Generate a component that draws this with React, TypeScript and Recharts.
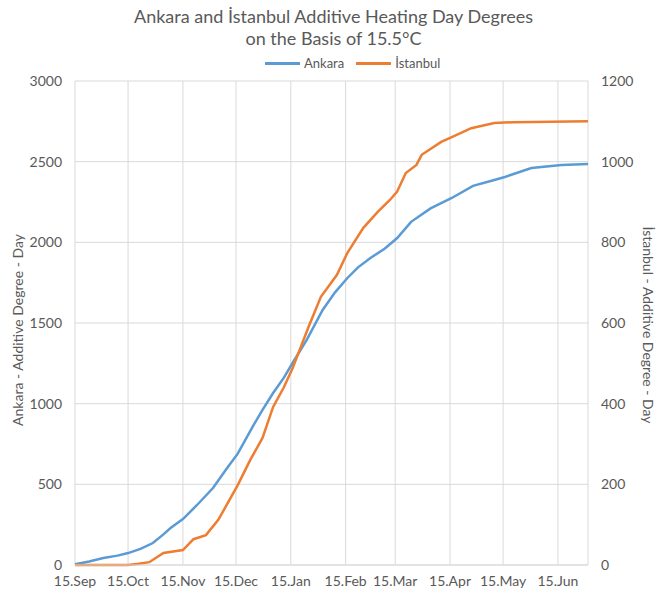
import React from "react";
import { LineChart, Line, XAxis, YAxis, CartesianGrid } from "recharts";

// days counted from 15 Sep
const tickDays = [0, 30, 61, 91, 122, 153, 181, 212, 242, 273];
const tickLabels = ["15.Sep", "15.Oct", "15.Nov", "15.Dec", "15.Jan", "15.Feb", "15.Mar", "15.Apr", "15.May", "15.Jun"];

const ankaraDays = [0, 8, 16, 24, 30, 37, 44, 50, 54, 61, 69, 78, 86, 92, 101, 106, 112, 118, 123, 131, 140, 147, 154, 160, 167, 175, 182, 190, 201, 213, 225, 235, 243, 258, 275, 290];
const ankaraValues = [5, 22, 43, 58, 74, 100, 136, 190, 229, 285, 372, 477, 601, 690, 868, 961, 1066, 1160, 1252, 1395, 1581, 1690, 1779, 1845, 1903, 1960, 2025, 2127, 2210, 2275, 2350, 2380, 2405, 2461, 2480, 2486];

const istanbulDays = [0, 30, 36, 42, 50, 61, 67, 74, 81, 92, 99, 106, 112, 118, 123, 132, 139, 148, 154, 163, 171, 178, 182, 187, 193, 196, 207, 213, 224, 237, 248, 290];
const istanbulValues = [0, 0, 3, 7, 30, 37, 64, 74, 112, 198, 260, 315, 392, 440, 488, 590, 665, 719, 774, 836, 875, 905, 925, 972, 992, 1017, 1049, 1061, 1083, 1096, 1098, 1100];

const leftTicks = [0, 500, 1000, 1500, 2000, 2500, 3000];
const rightTicks = [0, 200, 400, 600, 800, 1000, 1200];

const ankaraData = ankaraDays.map((d, i) => ({ day: d, ankara: ankaraValues[i] }));
const istanbulData = istanbulDays.map((d, i) => ({ day: d, istanbul: istanbulValues[i] }));

const FONT = "Lato, Calibri, sans-serif";
const TEXT = "#595959";
const GRID = "#d9d9d9";
const BLUE = "#5B9BD5";
const ORANGE = "#ED7D31";

if (typeof document !== "undefined") document.body.style.margin = "0";

export default function App() {
  return (
    <div style={{ position: "relative", width: 667, height: 593, background: "#fff", fontFamily: FONT, color: TEXT }}>
      <div style={{ position: "absolute", top: 5, left: 0, width: 667, textAlign: "center", fontSize: 18, lineHeight: "22px" }}>
        Ankara and İstanbul Additive Heating Day Degrees
        <br />
        on the Basis of 15.5°C
      </div>
      <div style={{ position: "absolute", top: 55, left: 265, display: "flex", alignItems: "center", fontSize: 13 }}>
        <span style={{ display: "inline-block", width: 35, height: 3, background: BLUE, marginRight: 4 }} />
        <span style={{ marginRight: 12 }}>Ankara</span>
        <span style={{ display: "inline-block", width: 35, height: 3, background: ORANGE, marginRight: 4 }} />
        <span>İstanbul</span>
      </div>
      <div style={{ position: "absolute", left: 17, top: 330, transform: "translate(-50%, -50%) rotate(-90deg)", whiteSpace: "nowrap", fontSize: 14 }}>
        Ankara - Additive Degree - Day
      </div>
      <div style={{ position: "absolute", left: 648, top: 325, transform: "translate(-50%, -50%) rotate(90deg)", whiteSpace: "nowrap", fontSize: 14 }}>
        İstanbul - Additive Degree - Day
      </div>
      <LineChart width={667} height={593} margin={{ top: 81, right: 0, bottom: 0, left: 0 }}>
        <CartesianGrid stroke={GRID} yAxisId="left" />
        <XAxis
          dataKey="day"
          type="number"
          domain={[0, 290]}
          ticks={tickDays}
          tickFormatter={(v) => tickLabels[tickDays.indexOf(v)] ?? ""}
          allowDuplicatedCategory={false}
          height={28}
          tickSize={0}
          tickMargin={11}
          axisLine={{ stroke: GRID }}
          tick={{ fill: TEXT, fontSize: 14, fontFamily: FONT }}
          interval={0}
        />
        <YAxis
          yAxisId="left"
          domain={[0, 3000]}
          ticks={leftTicks}
          width={75}
          tickSize={0}
          tickMargin={13}
          axisLine={false}
          tick={{ fill: TEXT, fontSize: 14, fontFamily: FONT }}
        />
        <YAxis
          yAxisId="right"
          orientation="right"
          domain={[0, 1200]}
          ticks={rightTicks}
          width={79}
          tickSize={0}
          tickMargin={13}
          axisLine={false}
          tick={{ fill: TEXT, fontSize: 14, fontFamily: FONT, textAnchor: "start" }}
        />
        <Line
          yAxisId="left"
          data={ankaraData}
          dataKey="ankara"
          type="linear"
          stroke={BLUE}
          strokeWidth={2.5}
          dot={false}
          isAnimationActive={false}
        />
        <Line
          yAxisId="right"
          data={istanbulData}
          dataKey="istanbul"
          type="linear"
          stroke={ORANGE}
          strokeWidth={2.5}
          dot={false}
          isAnimationActive={false}
        />
      </LineChart>
    </div>
  );
}
